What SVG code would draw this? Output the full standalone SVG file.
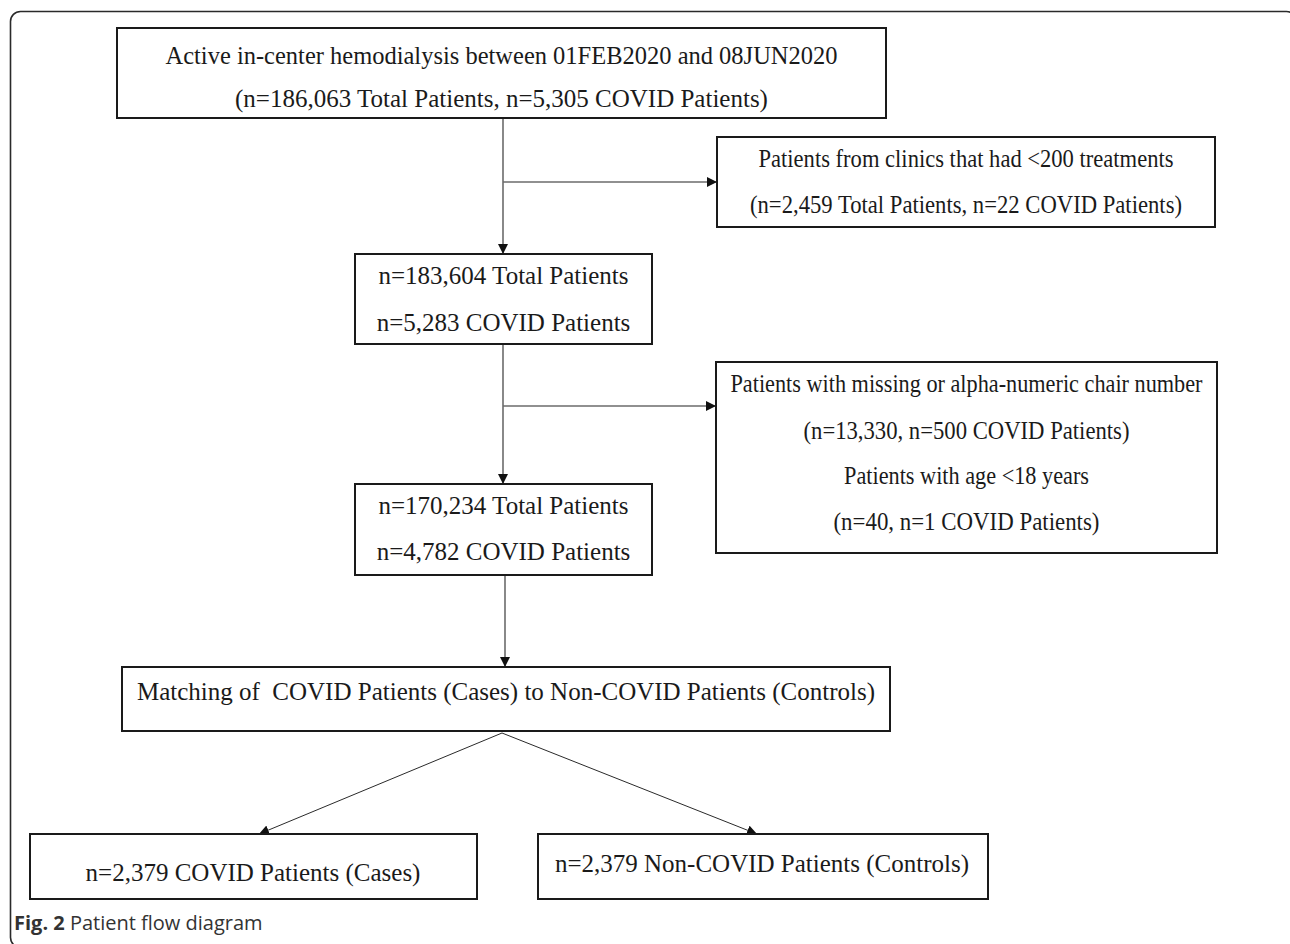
<svg xmlns="http://www.w3.org/2000/svg" width="1290" height="944" viewBox="0 0 1290 944">
<style>
  .box { fill: #ffffff; stroke: #1a1a1a; stroke-width: 2; }
  .t { font-family: "Liberation Serif", "Times New Roman", serif; font-size: 25px; fill: #1a1a1a; text-anchor: middle; }
  .conn { stroke: #6b6b6b; stroke-width: 1.6; fill: none; marker-end: url(#arr); }
  .diag { stroke: #2a2a2a; stroke-width: 1; fill: none; marker-end: url(#arr); }
  .frame { fill: none; stroke: #2a2a2a; stroke-width: 1.6; }
  .cap { font-family: "Open Sans", "Liberation Sans", sans-serif; font-size: 20px; fill: #333333; }
</style>
<defs>
  <marker id="arr" viewBox="0 0 10 10" refX="10" refY="5" markerWidth="10" markerHeight="10" markerUnits="userSpaceOnUse" orient="auto">
    <path d="M0,0 L10,5 L0,10 Z" fill="#111111"/>
  </marker>
</defs>
<rect width="1290" height="944" fill="#ffffff"/>
<rect class="frame" x="10.5" y="11.5" width="1286" height="936" rx="10" ry="10"/>

<g id="connectors">
  <line class="conn" x1="503" y1="118" x2="503" y2="254"/>
  <line class="conn" x1="503" y1="182" x2="717" y2="182"/>
  <line class="conn" x1="503" y1="344" x2="503" y2="484"/>
  <line class="conn" x1="503" y1="406" x2="716" y2="406"/>
  <line class="conn" x1="505" y1="575" x2="505" y2="667"/>
  <line class="diag" x1="502" y1="733" x2="259" y2="834"/>
  <line class="diag" x1="502" y1="733" x2="757" y2="834"/>
</g>

<g id="node-start">
  <rect class="box" x="117" y="28" width="769" height="90"/>
  <text class="t" x="501.5" y="64" textLength="672" lengthAdjust="spacingAndGlyphs">Active in-center hemodialysis between 01FEB2020 and 08JUN2020</text>
  <text class="t" x="501.5" y="107">(n=186,063 Total Patients, n=5,305 COVID Patients)</text>
</g>

<g id="node-excl1">
  <rect class="box" x="717" y="137" width="498" height="90"/>
  <text class="t" x="966" y="167" textLength="415" lengthAdjust="spacingAndGlyphs">Patients from clinics that had &lt;200 treatments</text>
  <text class="t" x="966" y="213" textLength="432" lengthAdjust="spacingAndGlyphs">(n=2,459 Total Patients, n=22 COVID Patients)</text>
</g>

<g id="node-step2">
  <rect class="box" x="355" y="254" width="297" height="90"/>
  <text class="t" x="503.5" y="284">n=183,604 Total Patients</text>
  <text class="t" x="503.5" y="331">n=5,283 COVID Patients</text>
</g>

<g id="node-excl2">
  <rect class="box" x="716" y="362" width="501" height="191"/>
  <text class="t" x="966.5" y="392" textLength="472" lengthAdjust="spacingAndGlyphs">Patients with missing or alpha-numeric chair number</text>
  <text class="t" x="966.5" y="439" textLength="326" lengthAdjust="spacingAndGlyphs">(n=13,330, n=500 COVID Patients)</text>
  <text class="t" x="966.5" y="484" textLength="245" lengthAdjust="spacingAndGlyphs">Patients with age &lt;18 years</text>
  <text class="t" x="966.5" y="530" textLength="266" lengthAdjust="spacingAndGlyphs">(n=40, n=1 COVID Patients)</text>
</g>

<g id="node-step3">
  <rect class="box" x="355" y="484" width="297" height="91"/>
  <text class="t" x="503.5" y="514">n=170,234 Total Patients</text>
  <text class="t" x="503.5" y="560">n=4,782 COVID Patients</text>
</g>

<g id="node-matching">
  <rect class="box" x="122" y="667" width="768" height="64"/>
  <text class="t" x="506" y="700" xml:space="preserve">Matching of  COVID Patients (Cases) to Non-COVID Patients (Controls)</text>
</g>

<g id="node-cases">
  <rect class="box" x="30" y="834" width="447" height="65"/>
  <text class="t" x="253" y="881">n=2,379 COVID Patients (Cases)</text>
</g>

<g id="node-controls">
  <rect class="box" x="538" y="834" width="450" height="65"/>
  <text class="t" x="762" y="872">n=2,379 Non-COVID Patients (Controls)</text>
</g>

<text class="cap" x="14" y="930"><tspan font-weight="bold">Fig. 2</tspan> Patient flow diagram</text>
</svg>
